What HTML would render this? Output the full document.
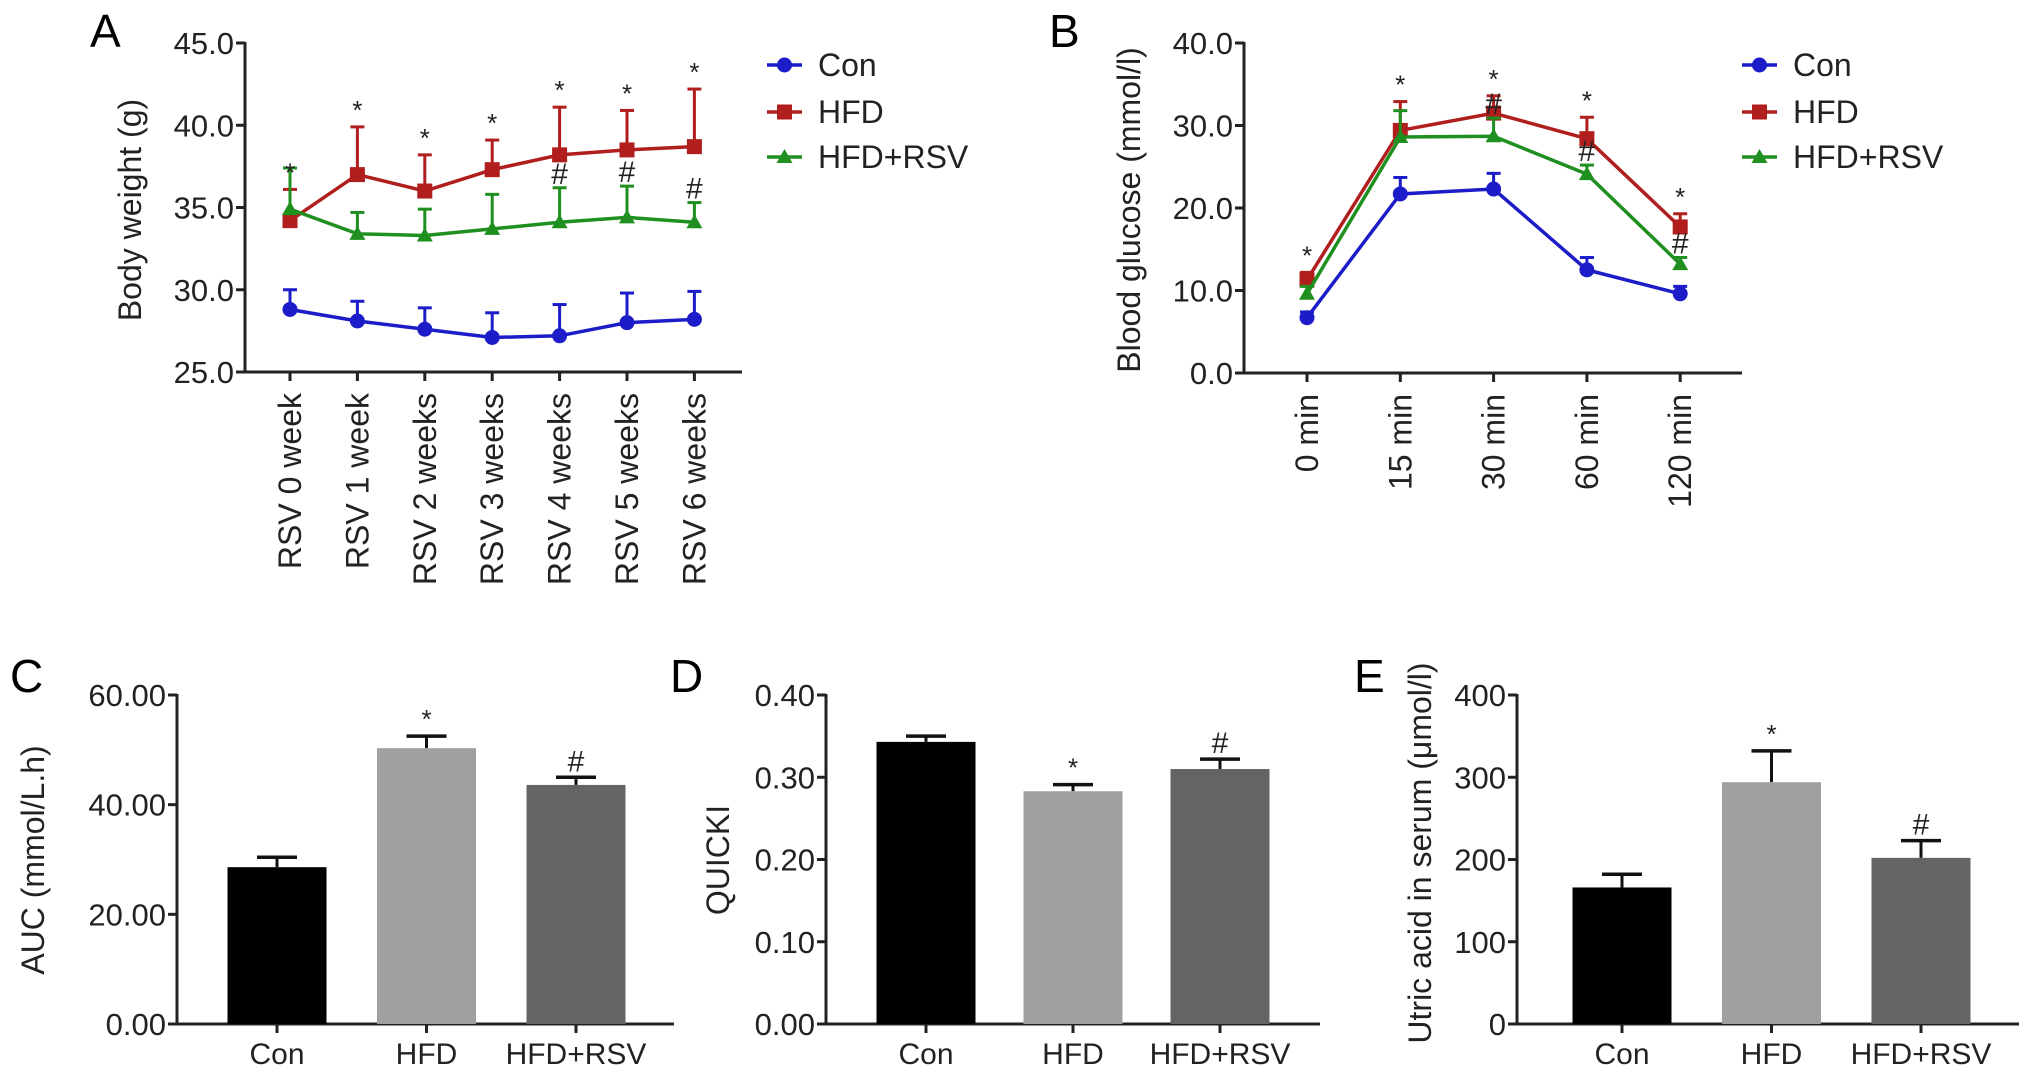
<!DOCTYPE html>
<html><head><meta charset="utf-8"><style>
html,body{margin:0;padding:0;background:#fff;}
svg{display:block;font-family:"Liberation Sans",Arial,sans-serif;}
</style></head><body>
<svg id="fig" width="2032" height="1084" viewBox="0 0 2032 1084" xmlns="http://www.w3.org/2000/svg">
<text x="90" y="47" font-size="46">A</text>
<text x="1049" y="47" font-size="46">B</text>
<text x="10" y="692" font-size="46">C</text>
<text x="670" y="692" font-size="46">D</text>
<text x="1354" y="692" font-size="46">E</text>
</svg>
<script>
// ---------- Panel A data ----------
const aCats = ["RSV 0 week","RSV 1 week","RSV 2 weeks","RSV 3 weeks","RSV 4 weeks","RSV 5 weeks","RSV 6 weeks"];
const aTicks = [25.0,30.0,35.0,40.0,45.0];
const aCon = [28.8,28.1,27.6,27.1,27.2,28.0,28.2];
const aConErr = [30.0,29.3,28.9,28.6,29.1,29.8,29.9];
const aHfd = [34.2,37.0,36.0,37.3,38.2,38.5,38.7];
const aHfdErr = [36.1,39.9,38.2,39.1,41.1,40.9,42.2];
const aRsv = [34.9,33.4,33.3,33.7,34.1,34.4,34.1];
const aRsvErr = [37.4,34.7,34.9,35.8,36.2,36.3,35.3];
const aStar = [1,1,1,1,1,1,1];
const aHash = [0,0,0,0,1,1,1];
// ---------- Panel B data ----------
const bCats = ["0 min","15 min","30 min","60 min","120 min"];
const bTicks = [0,10,20,30,40];
const bCon = [6.7,21.7,22.3,12.5,9.6];
const bConErr = [7.4,23.7,24.2,14.0,10.5];
const bHfd = [11.3,29.4,31.5,28.4,17.7];
const bHfdErr = [12.2,32.9,33.6,31.0,19.3];
const bRsv = [9.6,28.6,28.7,24.1,13.2];
const bRsvErr = [10.5,31.8,30.9,25.2,14.0];
const bStar = [1,1,1,1,1];
const bHash = [0,0,1,1,1];
// ---------- Bar panels ----------
const barCats = ["Con","HFD","HFD+RSV"];
const cVals = [28.6,50.3,43.6];
const cErr = [30.4,52.5,45.0];
const cTicks = [0,20,40,60];
const cMarks = ["","*","#"];
const dVals = [0.343,0.283,0.310];
const dErr = [0.350,0.291,0.322];
const dTicks = [0,0.1,0.2,0.3,0.4];
const dMarks = ["","*","#"];
const eVals = [166,294,202];
const eErr = [182,332,223];
const eTicks = [0,100,200,300,400];
const eMarks = ["","*","#"];

const NS="http://www.w3.org/2000/svg";
const svg=document.getElementById('fig');
function mk(tag,attrs,parent){const e=document.createElementNS(NS,tag);for(const k in attrs)e.setAttribute(k,attrs[k]);(parent||svg).appendChild(e);return e;}

function axes(c){
  const g=mk('g',{});
  
  
  mk('line',{x1:c.x0,y1:c.y1-1,x2:c.x0,y2:c.y0+1.5,stroke:'#222','stroke-width':3},g);
  mk('line',{x1:c.x0-1.5,y1:c.y0,x2:c.xEnd,y2:c.y0,stroke:'#222','stroke-width':3},g);
  c.ticks.forEach(t=>{
    const y=c.sy(t);
    mk('line',{x1:c.x0-9,y1:y,x2:c.x0,y2:y,stroke:'#222','stroke-width':3},g);
    const tx=mk('text',{x:c.x0-11,y:y+11,'font-size':31,'text-anchor':'end',fill:'#222'},g);
    
    
    tx.textContent=t.toFixed(c.dec);
  });
  const yl=mk('text',{x:0,y:0,'font-size':32,'text-anchor':'middle',fill:'#222',transform:`translate(${c.ylx},${c.yly}) rotate(-90)`},g);
  
  
  yl.textContent=c.ylabel;
}

function lineChart(c){
  axes(c);
  c.cats.forEach((cat,i)=>{
    const x=c.sx(i);
    mk('line',{x1:x,y1:c.y0,x2:x,y2:c.y0+9,stroke:'#222','stroke-width':3});
    const t=mk('text',{x:0,y:0,'font-size':32,'text-anchor':'end',fill:'#222',transform:`translate(${x+11},${c.y0+21}) rotate(-90)`});
    
    
    t.textContent=cat;
  });
  c.series.forEach(s=>{
    const g=mk('g',{});
    
    
    s.err.forEach((e,i)=>{
      const x=c.sx(i);
      mk('line',{x1:x,y1:c.sy(s.vals[i]),x2:x,y2:c.sy(e),stroke:s.col,'stroke-width':3},g);
      mk('line',{x1:x-7,y1:c.sy(e),x2:x+7,y2:c.sy(e),stroke:s.col,'stroke-width':3},g);
    });
    const pts=s.vals.map((v,i)=>c.sx(i)+','+c.sy(v)).join(' ');
    mk('polyline',{points:pts,fill:'none',stroke:s.col,'stroke-width':3.5},g);
    s.vals.forEach((v,i)=>marker(s.shape,c.sx(i),c.sy(v),s.col,g));
  });
  c.star.forEach((f,i)=>{ if(!f)return;
    const t=mk('text',{x:c.sx(i),y:c.sy(c.hfdErr[i])-8,'font-size':26,'text-anchor':'middle',fill:'#222'});
    
    
    t.textContent='*';
  });
  c.hash.forEach((f,i)=>{ if(!f)return;
    const t=mk('text',{x:c.sx(i),y:c.sy(c.rsvErr[i])-4,'font-size':30,'text-anchor':'middle',fill:'#222'});
    
    
    t.textContent='#';
  });
  c.series.forEach((s,k)=>{
    const g=mk('g',{});
    
    
    const y=c.legY[k];
    mk('line',{x1:c.legX,y1:y,x2:c.legX+35,y2:y,stroke:s.col,'stroke-width':3.5},g);
    marker(s.shape,c.legX+17.5,y,s.col,g);
    const t=mk('text',{x:c.legX+51,y:y+11,'font-size':32,fill:'#222'},g);
    t.textContent=s.label;
  });
}
function marker(shape,x,y,col,g){
  if(shape==='circle')mk('circle',{cx:x,cy:y,r:7.5,fill:col},g);
  else if(shape==='square')mk('rect',{x:x-7.5,y:y-7.5,width:15,height:15,fill:col},g);
  else mk('polygon',{points:`${x},${y-8} ${x+8},${y+6} ${x-8},${y+6}`,fill:col},g);
}

const BLUE='#1c1cc8',RED='#b01e1e',GREEN='#1f8f1f';
// Panel A
(function(){
  const y0=372,y1=43,vmin=25,vmax=45,x0=245,first=290,step=67.4;
  lineChart({name:'panel-a',x0,y0,y1,xEnd:742,ticks:aTicks,dec:1,
    sy:v=>y0-(v-vmin)/(vmax-vmin)*(y0-y1),sx:i=>first+i*step,cats:aCats,
    ylabel:'Body weight (g)',ylx:141,yly:210,
    series:[{key:'con',label:'Con',vals:aCon,err:aConErr,col:BLUE,shape:'circle'},
            {key:'hfd',label:'HFD',vals:aHfd,err:aHfdErr,col:RED,shape:'square'},
            {key:'hfd-rsv',label:'HFD+RSV',vals:aRsv,err:aRsvErr,col:GREEN,shape:'triangle'}],
    hfdErr:aHfdErr,rsvErr:aRsvErr,star:aStar,hash:aHash,legX:767,legY:[65,112,157]});
})();
// Panel B
(function(){
  const y0=373,y1=43,vmin=0,vmax=40,x0=1244,first=1307,step=93.3;
  lineChart({name:'panel-b',x0,y0,y1,xEnd:1742,ticks:bTicks,dec:1,
    sy:v=>y0-(v-vmin)/(vmax-vmin)*(y0-y1),sx:i=>first+i*step,cats:bCats,
    ylabel:'Blood glucose (mmol/l)',ylx:1140,yly:210,
    series:[{key:'con',label:'Con',vals:bCon,err:bConErr,col:BLUE,shape:'circle'},
            {key:'hfd',label:'HFD',vals:bHfd,err:bHfdErr,col:RED,shape:'square'},
            {key:'hfd-rsv',label:'HFD+RSV',vals:bRsv,err:bRsvErr,col:GREEN,shape:'triangle'}],
    hfdErr:bHfdErr,rsvErr:bRsvErr,star:bStar,hash:bHash,legX:1742,legY:[65,112,157]});
})();

const BARCOLS=['#000000','#a0a0a0','#646464'];
function barChart(c){
  axes(c);
  const bw=99;
  c.vals.forEach((v,i)=>{
    const x=c.sx(i);
    mk('line',{x1:x,y1:c.sy(v),x2:x,y2:c.sy(c.err[i]),stroke:'#111','stroke-width':3});
    mk('line',{x1:x-20,y1:c.sy(c.err[i]),x2:x+20,y2:c.sy(c.err[i]),stroke:'#111','stroke-width':3.5});
    const r=mk('rect',{x:x-bw/2,y:c.sy(v),width:bw,height:c.y0-c.sy(v),fill:BARCOLS[i]});
    
    
    mk('line',{x1:x,y1:c.y0,x2:x,y2:c.y0+9,stroke:'#222','stroke-width':3});
    const t=mk('text',{x:x,y:c.y0+40,'font-size':30,'text-anchor':'middle',fill:'#222'});
    
    
    t.textContent=c.cats[i];
    if(c.marks[i]){
      const m=mk('text',{x:x,y:c.sy(c.err[i])-(c.marks[i]==='*'?8:6),'font-size':c.marks[i]==='*'?26:30,'text-anchor':'middle',fill:'#222'});
      
      
      m.textContent=c.marks[i];
    }
  });
}
(function(){
  const y0=1024,y1=695;
  barChart({name:'panel-c',x0:177,y0,y1,xEnd:674,ticks:cTicks,dec:2,
    sy:v=>y0-v/60*(y0-y1),sx:i=>277+i*149.5,cats:barCats,vals:cVals,err:cErr,marks:cMarks,
    ylabel:'AUC (mmol/L.h)',ylx:44,yly:860});
  barChart({name:'panel-d',x0:826,y0,y1,xEnd:1320,ticks:dTicks,dec:2,
    sy:v=>y0-v/0.4*(y0-y1),sx:i=>926+i*147,cats:barCats,vals:dVals,err:dErr,marks:dMarks,
    ylabel:'QUICKI',ylx:729,yly:860});
  barChart({name:'panel-e',x0:1517,y0,y1,xEnd:2019,ticks:eTicks,dec:0,
    sy:v=>y0-v/400*(y0-y1),sx:i=>1622+i*149.5,cats:barCats,vals:eVals,err:eErr,marks:eMarks,
    ylabel:'Utric acid in serum (\u03bcmol/l)',ylx:1431,yly:853});
})();
</script>
</body></html>
